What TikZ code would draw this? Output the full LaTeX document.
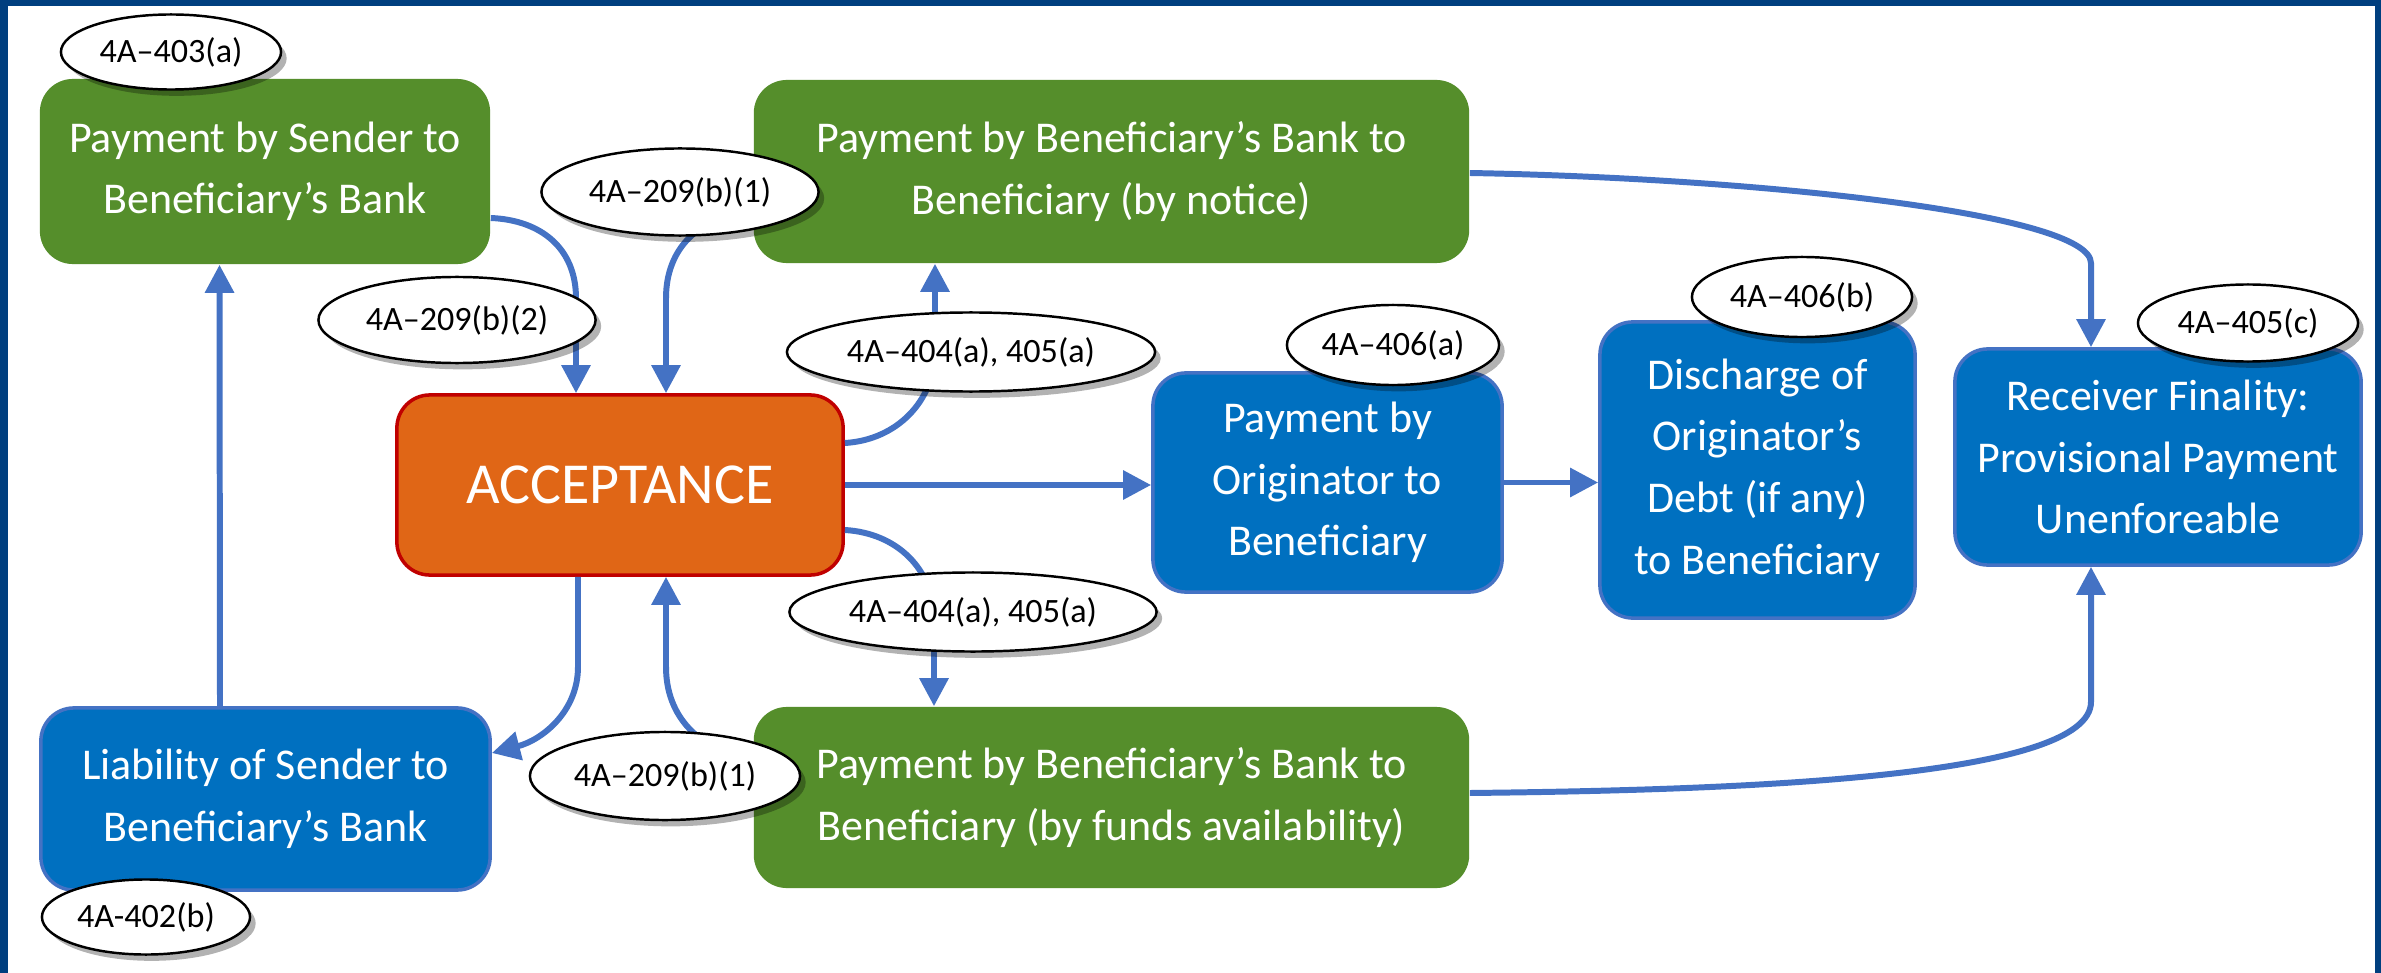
\documentclass[tikz,border=0pt]{standalone}
\usepackage{fontspec}
\setmainfont{Carlito}
\usetikzlibrary{shapes.geometric,shadows,arrows.meta,calc}
\definecolor{frameblue}{RGB}{0,63,127}
\definecolor{boxgreen}{RGB}{85,142,43}
\definecolor{boxblue}{RGB}{0,112,192}
\definecolor{boxblueedge}{RGB}{68,114,196}
\definecolor{accorange}{RGB}{224,102,22}
\definecolor{accred}{RGB}{192,0,0}
\definecolor{arrowblue}{RGB}{68,114,196}
\begin{document}
\begin{tikzpicture}[x=0.01cm,y=-0.01cm,
  box/.style={rectangle, rounded corners=0.33cm, inner sep=0pt, align=center, text=white,
    font=\fontsize{12.5}{17.5}\selectfont},
  greenbox/.style={box, fill=boxgreen},
  bluebox/.style={box, fill=boxblue, draw=boxblueedge, line width=1pt},
  accbox/.style={box, fill=accorange, draw=accred, line width=1pt, font=\fontsize{16.5}{20}\selectfont},
  tag/.style={ellipse, draw=black, line width=0.7pt, fill=white, inner sep=0pt,
    font=\fontsize{9.7}{11}\selectfont,
    drop shadow={shadow xshift=1.6pt, shadow yshift=-1.8pt, opacity=0.3, fill=black}},
  conn/.style={draw=arrowblue, line width=1.7pt, -{Triangle[width=8pt,length=8pt]}}
]
% frame
\fill[frameblue] (0,0) rectangle (2381,973);
\fill[white] (8,6) rectangle (2375,973);
\useasboundingbox (0,0) rectangle (2381,973);

% boxes
\node[greenbox, minimum width=4.50cm, minimum height=1.85cm] (sender) at (265,171.5)
  {Payment by Sender to\\Beneficiary’s Bank};
\node[greenbox, minimum width=7.15cm, minimum height=1.83cm] (notice) at (1111.5,171.5)
  {Payment by Beneficiary’s Bank to\\Beneficiary (by notice)};
\node[accbox, minimum width=4.46cm, minimum height=1.80cm] (accept) at (620,485)
  {ACCEPTANCE};
\node[bluebox, minimum width=3.49cm, minimum height=2.19cm] (orig) at (1327.5,482.5)
  {Payment by\\Originator to\\Beneficiary};
\node[bluebox, minimum width=3.15cm, minimum height=2.96cm] (disch) at (1757.5,470)
  {Discharge of\\Originator’s\\Debt (if any)\\to Beneficiary};
\node[bluebox, minimum width=4.06cm, minimum height=2.16cm] (recv) at (2158,457)
  {Receiver Finality:\\Provisional Payment\\Unenforeable};
\node[bluebox, minimum width=4.49cm, minimum height=1.82cm] (liab) at (265.5,799)
  {Liability of Sender to\\Beneficiary’s Bank};
\node[greenbox, minimum width=7.15cm, minimum height=1.81cm] (funds) at (1111.5,797.5)
  {Payment by Beneficiary’s Bank to\\Beneficiary (by funds availability)};

% connectors
\draw[conn] ($(liab.north)+(-45.5,0)$) -- ($(sender.south)+(-45.5,0)$);
\draw[conn] ($(sender.east)+(0,46.5)$) .. controls +(50,2) and +(0,-50) .. ($(accept.north)+(-44,-95)$) -- ($(accept.north)+(-44,0)$);
\draw[conn] ($(notice.west)+(0,41)$) .. controls +(-54,3) and +(0,-50) .. ($(accept.north)+(46,-95)$) -- ($(accept.north)+(46,0)$);
\draw[conn] ($(accept.east)+(0,-42)$) .. controls +(52,-3) and +(0,50) .. ($(notice.south)+(-176.5,87)$) -- ($(notice.south)+(-176.5,0)$);
\draw[conn] (accept.east) -- (accept.east -| orig.west);
\draw[conn] (orig.east) -- (orig.east -| disch.west);
\draw[conn] ($(accept.east)+(0,45)$) .. controls +(52,3) and +(0,-50) .. ($(funds.north)+(-177.5,-87)$) -- ($(funds.north)+(-177.5,0)$);
\draw[conn] ($(accept.south)+(-42,0)$) -- ($(accept.south)+(-42,90)$) .. controls +(0,45) and +(50,-13) .. ($(liab.east)+(0,-46)$);
\draw[conn] ($(funds.west)+(0,-37)$) .. controls +(-54,-10) and +(0,50) .. ($(accept.south)+(46,90)$) -- ($(accept.south)+(46,0)$);
\draw[conn] ($(notice.east)+(0,1.5)$) .. controls +(281,5) and +(0,-50) .. ($(recv.north)+(-67,-84)$) -- ($(recv.north)+(-67,0)$);
\draw[conn] ($(funds.east)+(0,-4.5)$) .. controls +(281,-3) and +(0,75) .. ($(recv.south)+(-67,135)$) -- ($(recv.south)+(-67,0)$);

% section tags
\node[tag, minimum width=2.20cm, minimum height=0.75cm] (t403a) at (171,52) {4A–403(a)};
\node[tag, minimum width=2.77cm, minimum height=0.87cm] (t209top) at (680,192) {4A–209(b)(1)};
\node[tag, minimum width=2.77cm, minimum height=0.86cm] (t209b2) at (457,320) {4A–209(b)(2)};
\node[tag, minimum width=3.68cm, minimum height=0.79cm] (t404up) at (971,352) {4A–404(a), 405(a)};
\node[tag, minimum width=3.67cm, minimum height=0.79cm] (t404low) at (973,612) {4A–404(a), 405(a)};
\node[tag, minimum width=2.12cm, minimum height=0.80cm] (t406a) at (1393,345) {4A–406(a)};
\node[tag, minimum width=2.20cm, minimum height=0.80cm] (t406b) at (1802,297) {4A–406(b)};
\node[tag, minimum width=2.20cm, minimum height=0.77cm] (t405c) at (2248,323) {4A–405(c)};
\node[tag, minimum width=2.08cm, minimum height=0.75cm] (t402b) at (146,917) {4A-402(b)};
\node[tag, minimum width=2.70cm, minimum height=0.88cm] (t209bot) at (665,776) {4A–209(b)(1)};
\end{tikzpicture}
\end{document}
